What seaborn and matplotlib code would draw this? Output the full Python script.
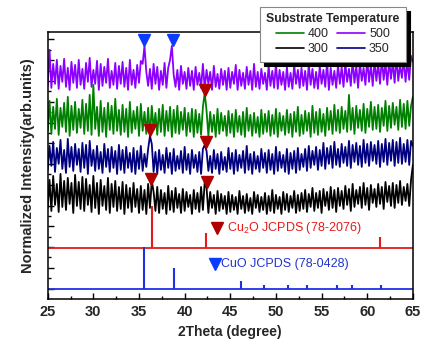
import numpy as np
import pandas as pd
import matplotlib
matplotlib.use("Agg")
import matplotlib.pyplot as plt
from matplotlib.lines import Line2D
import seaborn as sns

# ---------------- data ----------------
two_theta_start, two_theta_end = 25.0, 65.0

# noisy XRD traces (arb. units, grid 25..65 step 0.2)
i500 = [4, 40, 2, 26, 6, 30, 1, 24, 8, 31, 3, 22, 0, 28, 7, 25, 2, 30, 5, 21,
        1, 27, 8, 32, 3, 20, 6, 29, 0, 26, 4, 23, 7, 31, 2, 19, 5, 27, 1, 24,
        6, 28, 3, 22, 0, 30, 5, 20, 2, 25, 7, 29, 26, 44, 18, 4, 21, 1, 26, 6,
        23, 0, 19, 5, 27, 2, 22, 30, 44, 15, 3, 20, 0, 24, 6, 18, 1, 22, 4, 19,
        0, 23, 5, 17, 2, 26, 1, 20, 6, 18, 0, 24, 3, 16, 1, 21, 5, 19, 0, 22,
        2, 18, 6, 25, 0, 20, 4, 17, 1, 23, 5, 19, 0, 26, 3, 18, 1, 21, 6, 17,
        0, 24, 4, 19, 2, 27, 1, 20, 5, 18, 0, 23, 3, 17, 1, 25, 6, 20, 2, 22,
        4, 19, 0, 26, 5, 21, 2, 18, 1, 24, 6, 20, 3, 28, 0, 22, 5, 19, 2, 25,
        6, 23, 3, 27, 8, 21, 4, 30, 7, 24, 2, 28, 9, 22, 5, 31, 8, 25, 4, 29,
        9, 26, 6, 32, 10, 27, 5, 30, 11, 28, 7, 33, 9, 25, 12, 31, 8, 29, 10, 34, 28]
i400 = [6, 36, 3, 30, 8, 38, 2, 29, 10, 34, 5, 40, 1, 31, 7, 35, 4, 28, 9, 37,
        3, 33, 6, 42, 2, 52, 8, 30, 1, 36, 5, 29, 0, 34, 7, 31, 3, 38, 6, 27,
        2, 32, 5, 28, 0, 35, 4, 26, 8, 30, 1, 33, 6, 25, 3, 29, 0, 31, 7, 24,
        2, 28, 5, 32, 1, 26, 6, 30, 0, 27, 4, 31, 3, 25, 7, 29, 1, 24, 5, 28,
        0, 27, 4, 23, 2, 30, 44, 26, 1, 25, 5, 22, 0, 28, 3, 24, 6, 21, 1, 26,
        4, 23, 0, 27, 5, 21, 2, 25, 0, 29, 6, 22, 1, 24, 4, 20, 0, 27, 3, 23,
        5, 26, 1, 22, 3, 28, 0, 24, 6, 21, 2, 27, 4, 23, 0, 25, 5, 30, 1, 22,
        3, 26, 6, 24, 0, 31, 4, 25, 2, 28, 5, 23, 1, 29, 7, 26, 3, 32, 6, 27,
        4, 30, 8, 26, 5, 42, 7, 29, 3, 31, 9, 27, 6, 33, 4, 28, 10, 35, 7, 30,
        8, 32, 5, 29, 11, 36, 6, 31, 9, 34, 12, 30, 7, 37, 10, 33, 8, 36, 11, 31, 40]
i350 = [4, 28, 8, 32, 2, 26, 10, 34, 5, 24, 1, 35, 7, 27, 3, 30, 9, 25, 2, 31,
        6, 29, 0, 33, 8, 24, 3, 28, 5, 22, 1, 30, 7, 25, 2, 27, 6, 23, 0, 29,
        4, 24, 1, 27, 6, 21, 2, 26, 0, 23, 5, 28, 3, 20, 7, 25, 38, 30, 2, 22,
        0, 24, 4, 19, 1, 26, 6, 21, 0, 25, 3, 18, 5, 23, 1, 27, 4, 20, 0, 24,
        6, 19, 2, 22, 0, 25, 29, 23, 3, 18, 1, 24, 5, 20, 0, 22, 4, 17, 2, 26,
        5, 21, 0, 24, 3, 19, 6, 23, 1, 28, 4, 20, 0, 22, 5, 18, 2, 25, 6, 21,
        1, 24, 4, 20, 0, 27, 3, 22, 6, 19, 2, 25, 0, 21, 5, 23, 1, 26, 4, 20,
        7, 25, 3, 28, 6, 23, 9, 27, 4, 24, 8, 31, 5, 26, 10, 28, 6, 32, 9, 25,
        7, 30, 11, 27, 8, 33, 6, 29, 12, 31, 9, 28, 7, 34, 11, 30, 8, 32, 13, 29,
        10, 33, 7, 30, 12, 35, 9, 31, 13, 34, 8, 32, 11, 36, 10, 30, 12, 34, 9, 33, 28]
i300 = [6, 34, 3, 38, 9, 30, 2, 40, 7, 33, 4, 36, 10, 31, 1, 39, 8, 32, 5, 37,
        3, 35, 9, 29, 2, 38, 6, 31, 0, 34, 8, 28, 4, 36, 1, 30, 7, 33, 3, 27,
        5, 32, 0, 29, 6, 26, 2, 31, 7, 25, 1, 28, 4, 24, 0, 30, 6, 33, 22, 3,
        27, 1, 24, 5, 21, 0, 28, 4, 23, 2, 26, 6, 20, 1, 25, 3, 22, 7, 19, 0,
        24, 5, 21, 2, 27, 4, 32, 26, 1, 22, 6, 19, 0, 23, 3, 20, 5, 18, 0, 22,
        2, 19, 4, 17, 0, 23, 5, 18, 1, 20, 3, 16, 0, 22, 6, 19, 2, 17, 4, 21,
        0, 18, 3, 24, 1, 19, 5, 17, 0, 22, 4, 20, 2, 18, 6, 23, 1, 19, 3, 21,
        5, 24, 2, 20, 7, 26, 3, 21, 6, 23, 1, 25, 8, 22, 4, 27, 6, 24, 2, 26,
        8, 23, 5, 28, 9, 25, 3, 30, 7, 24, 10, 27, 6, 31, 9, 26, 4, 29, 11, 25,
        7, 30, 10, 27, 5, 32, 12, 28, 8, 31, 6, 29, 11, 33, 9, 27, 13, 30, 8, 34, 49]

temps = ["500", "400", "350", "300"]
trace_values = {"500": i500, "400": i400, "350": i350, "300": i300}

# reference stick patterns
cu2o_pos = [36.4, 42.3, 61.4]
cu2o_int = [100, 36, 27]
cuo_pos = [35.5, 38.8, 46.2, 48.7, 51.3, 53.4, 56.7, 58.3, 61.5]
cuo_int = [100, 51, 19, 10, 10, 10, 10, 10, 10]

# peak markers
marker_x_500 = [35.5, 38.7]
marker_x_400 = [42.2]
marker_x_350 = [36.2, 42.3]
marker_x_300 = [36.35, 42.4]

legend_labels = ["400", "300", "500", "350"]

# ---------------- styling / layout ----------------
colors = {"500": "#8B00FF", "400": "#008000", "350": "#000080", "300": "#000000"}
scale = 1 / 41.5                       # intensity -> axis units
offsets = {"500": 5.036, "400": 3.904, "350": 3.012, "300": 2.048}
cu2o_base, cuo_base = 1.229, 0.241
stick_scale = 0.0101
red_c, blue_c = "#E51B1B", "#1F2FE8"
tri_red, tri_blue = "#B00000", "#0A3BFF"

sns.set_theme(style="ticks")
plt.rcParams["font.family"] = ["Liberation Sans", "DejaVu Sans"]
plt.rcParams["mathtext.fontset"] = "custom"
plt.rcParams["mathtext.rm"] = "Liberation Sans"

fig = plt.figure(figsize=(4.43, 3.52), dpi=100)
ax = fig.add_axes([0.1077, 0.1506, 0.8243, 0.7585])

rows = []
for t in temps:
    v = np.asarray(trace_values[t], dtype=float)
    x = np.linspace(two_theta_start, two_theta_end, len(v))
    rows.append(pd.DataFrame({"2theta": x, "I": offsets[t] + v * scale, "T": t}))
df = pd.concat(rows, ignore_index=True)

sns.lineplot(data=df, x="2theta", y="I", hue="T", hue_order=temps,
             palette=colors, estimator=None, sort=False, linewidth=1.3,
             legend=False, ax=ax)

# stick patterns
ax.axhline(cu2o_base, color=red_c, lw=1.3)
ax.vlines(cu2o_pos, cu2o_base, cu2o_base + np.array(cu2o_int) * stick_scale,
          color=red_c, lw=1.5)
ax.axhline(cuo_base, color=blue_c, lw=1.3)
ax.vlines(cuo_pos, cuo_base, cuo_base + np.array(cuo_int) * stick_scale,
          color=blue_c, lw=1.5)

# peak markers
ms = 8.5
ax.plot(marker_x_500, [6.24] * 2, "v", color=tri_blue, ms=ms, ls="none")
ax.plot(marker_x_400, [5.04], "v", color=tri_red, ms=ms, ls="none")
ax.plot(marker_x_350, [4.07, 3.78], "v", color=tri_red, ms=ms, ls="none")
ax.plot(marker_x_300, [2.89, 2.82], "v", color=tri_red, ms=ms, ls="none")

# phase annotations
ax.plot([43.5], [1.71], "v", color=tri_red, ms=ms)
ax.text(44.6, 1.71, "Cu$_2$O JCPDS (78-2076)", color=red_c, fontsize=9,
        va="center", ha="left")
ax.plot([43.3], [0.84], "v", color=tri_blue, ms=ms)
ax.text(44.0, 0.84, "CuO JCPDS (78-0428)", color="#2233CC", fontsize=9,
        va="center", ha="left")

ax.set_xlim(25, 65)
ax.set_ylim(0, 6.43)
ax.set_xticks(np.arange(25, 66, 5))
ax.set_xticks(np.arange(27.5, 65, 5), minor=True)
ax.set_yticks(np.arange(0.25, 6.4, 0.5))
ax.set_yticks(np.arange(0.5, 6.4, 0.5), minor=True)
ax.set_yticklabels([])
ax.tick_params(axis="both", which="both", direction="in", top=False, right=False,
               color="black", width=1.0)
ax.tick_params(axis="y", which="major", length=4.5)
ax.tick_params(axis="y", which="minor", length=2.2)
ax.tick_params(axis="x", which="major", length=4, labelsize=10.5, pad=4)
ax.tick_params(axis="x", which="minor", length=2)
for lab in ax.get_xticklabels():
    lab.set_fontweight("bold")
for s in ax.spines.values():
    s.set_color("black")
    s.set_linewidth(1.1)

ax.set_xlabel("2Theta (degree)", fontsize=10, fontweight="bold", labelpad=5)
ax.set_ylabel("Normalized Intensity(arb.units)", fontsize=10.5, fontweight="bold",
              labelpad=6)

handles = [Line2D([], [], color=colors[t], lw=1.2) for t in legend_labels]
leg = ax.legend(handles, legend_labels, title="Substrate Temperature", ncol=2,
                loc="upper left", bbox_to_anchor=(0.581, 1.094), borderaxespad=0,
                fontsize=9, handlelength=2.3, handletextpad=0.3, columnspacing=0.6,
                labelspacing=0.25, borderpad=0.5, frameon=True, fancybox=False,
                shadow={"color": "black", "alpha": 1, "ox": 3, "oy": -3},
                title_fontproperties={"weight": "bold", "size": 8.8})
leg.get_frame().set_edgecolor("#888888")
leg.get_frame().set_linewidth(0.8)
leg.get_frame().set_facecolor("white")
leg.get_frame().set_alpha(1)
leg.set_zorder(10)

fig.savefig("out.png", dpi=100)
